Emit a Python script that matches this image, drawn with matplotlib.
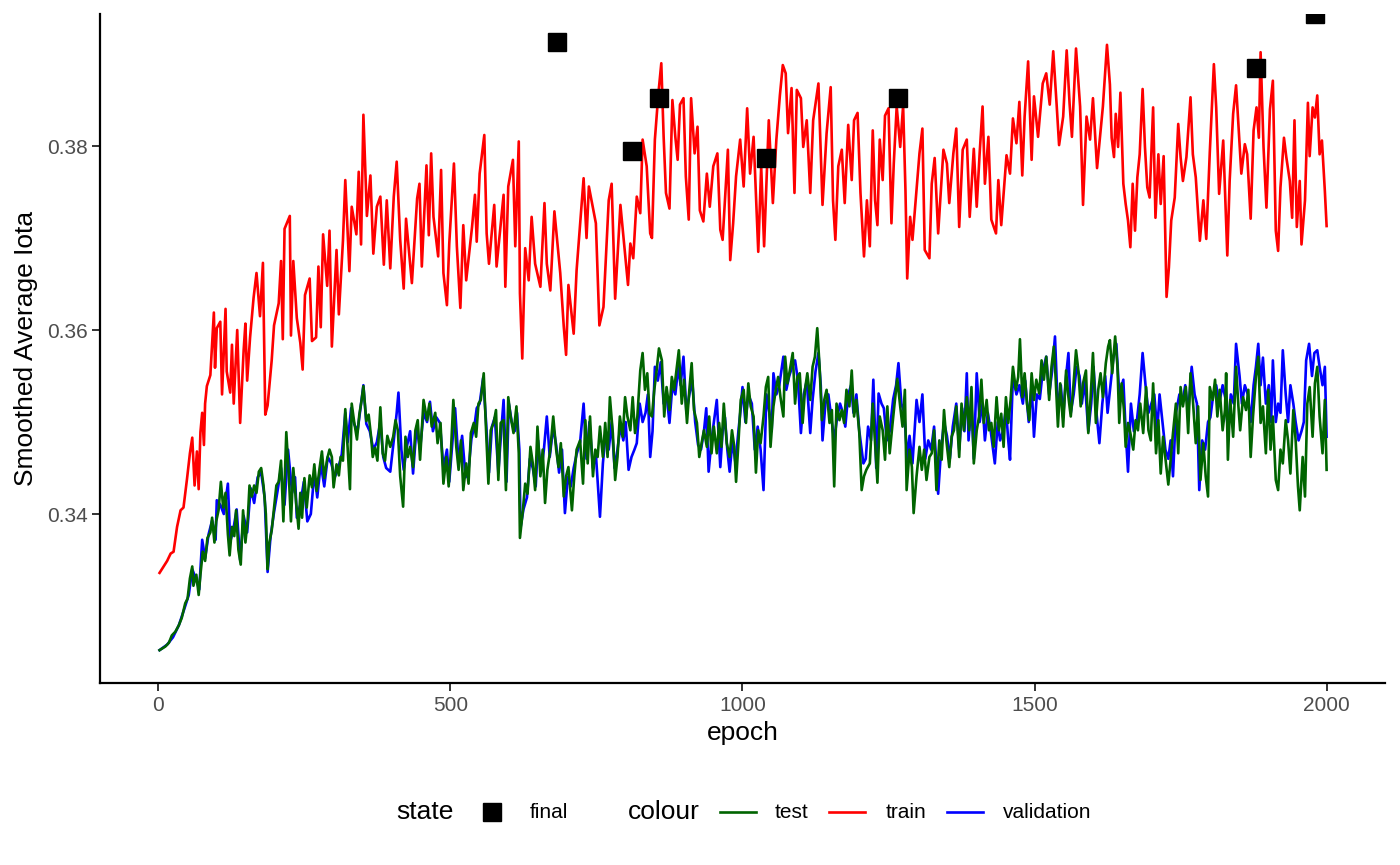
import numpy as np
import matplotlib
matplotlib.use("Agg")
import matplotlib.pyplot as plt
from matplotlib.lines import Line2D

plt.rcParams['font.family'] = ['Liberation Sans', 'DejaVu Sans']

# (epoch, smoothed average iota)
train_pts = [(2,.3336),(9,.3343),(15,.3349),(21,.3357),(26,.3359),(32,.3386),(38,.3404),(43,.3407),(49,.3438),(54,.3466),
    (58,.3483),(62,.3431),(66,.3468),(69,.3427),(72,.3489),(75,.3510),(78,.3475),(80,.3520),(83,.3539),(89,.3551),
    (95,.3619),(97,.3559),(100,.3602),(106,.3609),(109,.3530),(115,.3623),(117,.3555),(123,.3532),(126,.3584),(129,.3520),
    (135,.3600),(140,.3499),(146,.3578),(149,.3607),(152,.3545),(157,.3592),(163,.3635),(168,.3662),(174,.3615),(179,.3673),
    (183,.3508),(187,.3518),(194,.3567),(198,.3605),(206,.3629),(210,.3675),(213,.3590),(216,.3710),(225,.3724),(227,.3594),
    (231,.3675),(237,.3613),(243,.3586),(247,.3557),(251,.3638),(259,.3656),(263,.3588),(270,.3592),(274,.3669),(278,.3603),
    (282,.3704),(289,.3648),(293,.3708),(297,.3582),(305,.3687),(309,.3617),(316,.3697),(320,.3763),(327,.3664),(331,.3734),
    (339,.3704),(343,.3772),(347,.3693),(351,.3834),(357,.3724),(363,.3768),(368,.3683),(374,.3734),(380,.3745),(386,.3671),
    (391,.3741),(397,.3667),(403,.3745),(408,.3783),(414,.3698),(420,.3645),(424,.3721),(434,.3651),(443,.3743),(447,.3759),
    (451,.3669),(459,.3779),(463,.3703),(467,.3792),(471,.3723),(479,.3680),(484,.3774),(488,.3662),(494,.3627),(498,.3694),
    (506,.3781),(511,.3691),(517,.3624),(522,.3714),(527,.3654),(537,.3712),(542,.3747),(545,.3696),(550,.3770),(558,.3812),
    (562,.3705),(566,.3672),(575,.3736),(579,.3669),(591,.3747),(594,.3647),(599,.3756),(607,.3785),(611,.3691),(617,.3805),
    (619,.3640),(623,.3569),(628,.3689),(634,.3654),(639,.3723),(645,.3672),(654,.3647),(661,.3738),(665,.3672),(671,.3643),
    (678,.3729),(688,.3662),(694,.3604),(698,.3573),(702,.3649),(711,.3596),(716,.3665),(728,.3765),(733,.3700),(737,.3756),
    (749,.3716),(755,.3605),(762,.3625),(771,.3741),(776,.3759),(782,.3634),(791,.3736),(804,.3649),(808,.3694),(813,.3678),
    (819,.3745),(825,.3727),(829,.3807),(836,.3778),(842,.3705),(845,.3700),(850,.3807),(856,.3857),(861,.3890),(865,.3810),
    (869,.3749),(875,.3732),(880,.3850),(885,.3810),(889,.3785),(893,.3845),(899,.3852),(903,.3767),(908,.3720),(912,.3852),
    (918,.3792),(923,.3821),(927,.3730),(933,.3718),(939,.3770),(944,.3734),(950,.3778),(957,.3792),(962,.3709),(966,.3698),
    (975,.3796),(979,.3676),(984,.3716),(989,.3767),(996,.3807),(1002,.3756),(1008,.3841),(1013,.3770),(1019,.3810),(1027,.3685),
    (1032,.3778),(1037,.3691),(1045,.3828),(1052,.3738),(1058,.3807),(1064,.3855),(1069,.3888),(1074,.3879),(1078,.3814),(1084,.3863),
    (1089,.3749),(1093,.3861),(1100,.3852),(1104,.3799),(1110,.3828),(1116,.3749),(1121,.3828),(1130,.3868),(1137,.3736),(1144,.3814),
    (1151,.3864),(1155,.3741),(1159,.3698),(1164,.3778),(1170,.3796),(1175,.3738),(1181,.3823),(1187,.3763),(1191,.3828),(1197,.3836),
    (1202,.3749),(1208,.3680),(1213,.3741),(1218,.3691),(1223,.3817),(1227,.3741),(1231,.3714),(1235,.3807),(1240,.3763),(1244,.3833),
    (1250,.3841),(1255,.3716),(1259,.3781),(1264,.3843),(1270,.3799),(1275,.3844),(1279,.3752),(1282,.3656),(1287,.3723),(1291,.3698),
    (1298,.3752),(1303,.3792),(1308,.3819),(1312,.3687),(1320,.3678),(1324,.3759),(1329,.3787),(1335,.3705),(1344,.3796),(1350,.3781),
    (1354,.3738),(1361,.3792),(1366,.3819),(1371,.3712),(1377,.3796),(1384,.3807),(1389,.3723),(1396,.3797),(1401,.3734),(1406,.3792),
    (1411,.3843),(1415,.3759),(1421,.3810),(1426,.3720),(1434,.3705),(1438,.3763),(1443,.3714),(1452,.3790),(1458,.3770),(1463,.3830),
    (1469,.3803),(1474,.3848),(1479,.3768),(1483,.3832),(1489,.3892),(1495,.3785),(1499,.3854),(1506,.3810),(1514,.3868),(1520,.3879),
    (1526,.3845),(1532,.3903),(1538,.3843),(1542,.3801),(1549,.3832),(1555,.3904),(1560,.3846),(1564,.3810),(1571,.3906),(1578,.3843),
    (1583,.3736),(1589,.3832),(1595,.3807),(1600,.3852),(1607,.3776),(1612,.3810),(1617,.3843),(1624,.3910),(1629,.3867),(1632,.3809),
    (1636,.3788),(1639,.3835),(1643,.3799),(1647,.3858),(1652,.3759),(1656,.3737),(1660,.3719),(1664,.3690),(1668,.3759),(1672,.3708),
    (1676,.3766),(1680,.3791),(1685,.3862),(1689,.3799),(1693,.3755),(1697,.3744),(1703,.3842),(1707,.3722),(1712,.3791),(1716,.3737),
    (1721,.3789),(1726,.3636),(1730,.3668),(1734,.3719),(1740,.3744),(1746,.3824),(1750,.3788),(1754,.3762),(1760,.3788),(1767,.3853),
    (1771,.3791),(1776,.3766),(1783,.3697),(1789,.3741),(1794,.3699),(1800,.3793),(1807,.3889),(1811,.3842),(1816,.3748),(1823,.3806),
    (1830,.3681),(1834,.3762),(1840,.3835),(1845,.3866),(1849,.3824),(1854,.3770),(1860,.3802),(1864,.3791),(1870,.3721),(1875,.3817),
    (1880,.3842),(1884,.3809),(1887,.3902),(1892,.3799),(1897,.3733),(1903,.3840),(1908,.3871),(1913,.3708),(1917,.3686),(1921,.3755),
    (1927,.3809),(1931,.3788),(1937,.3762),(1941,.3722),(1945,.3828),(1949,.3712),(1954,.3762),(1957,.3693),(1963,.3741),(1968,.3847),
    (1971,.3789),(1976,.3842),(1980,.3831),(1984,.3855),(1988,.3791),(1992,.3806),(1997,.3751),(2000,.3713)]

test_pts = [(2,.3252),(12,.3256),(18,.3260),(23,.3268),(29,.3272),(35,.3279),(40,.3287),(46,.3303),(50,.3308),(54,.3330),
    (58,.3343),(60,.3322),(65,.3334),(69,.3312),(72,.3334),(76,.3359),(80,.3349),(84,.3374),(89,.3380),(92,.3396),
    (96,.3369),(99,.3392),(103,.3404),(107,.3435),(111,.3407),(115,.3423),(119,.3378),(122,.3355),(126,.3386),(130,.3376),
    (133,.3404),(137,.3361),(141,.3345),(145,.3404),(149,.3369),(153,.3394),(156,.3431),(160,.3419),(164,.3431),(168,.3423),
    (172,.3446),(176,.3450),(180,.3431),(184,.3400),(187,.3340),(190,.3369),(194,.3382),(198,.3407),(202,.3431),(206,.3435),
    (210,.3458),(214,.3392),(219,.3489),(223,.3446),(227,.3392),(231,.3450),(236,.3411),(240,.3384),(243,.3423),(246,.3396),
    (250,.3439),(254,.3407),(259,.3442),(263,.3429),(267,.3454),(271,.3425),(276,.3450),(280,.3468),(284,.3439),(289,.3460),
    (293,.3470),(297,.3462),(300,.3429),(305,.3454),(309,.3442),(312,.3462),(316,.3458),(320,.3514),(324,.3472),(328,.3427),
    (331,.3520),(335,.3501),(340,.3481),(344,.3508),(348,.3524),(351,.3539),(356,.3501),(360,.3508),(364,.3485),(367,.3462),
    (371,.3472),(375,.3458),(380,.3516),(384,.3466),(388,.3458),(392,.3485),(397,.3473),(402,.3484),(406,.3502),(410,.3491),
    (414,.3441),(419,.3408),(423,.3484),(427,.3462),(431,.3473),(436,.3451),(440,.3491),(444,.3502),(448,.3459),(454,.3524),
    (460,.3502),(464,.3520),(468,.3495),(474,.3510),(478,.3477),(483,.3499),(488,.3433),(493,.3462),(497,.3430),(501,.3470),
    (505,.3524),(510,.3473),(514,.3448),(518,.3480),(522,.3426),(527,.3455),(531,.3433),(535,.3488),(540,.3499),(544,.3484),
    (548,.3520),(552,.3524),(557,.3553),(561,.3491),(565,.3433),(569,.3491),(574,.3499),(578,.3513),(582,.3437),(586,.3499),
    (591,.3502),(595,.3426),(599,.3527),(603,.3506),(608,.3488),(613,.3517),(617,.3466),(619,.3374),(624,.3404),(628,.3433),
    (632,.3422),(637,.3473),(641,.3455),(645,.3426),(649,.3495),(654,.3441),(658,.3470),(662,.3412),(666,.3448),(671,.3470),
    (676,.3506),(681,.3470),(685,.3451),(689,.3477),(694,.3419),(698,.3441),(702,.3451),(708,.3404),(712,.3441),(716,.3470),
    (722,.3480),(727,.3433),(731,.3502),(735,.3455),(739,.3506),(744,.3441),(748,.3470),(752,.3462),(756,.3495),(761,.3462),
    (765,.3499),(769,.3462),(773,.3527),(778,.3488),(782,.3437),(786,.3462),(790,.3506),(795,.3484),(799,.3527),(803,.3506),
    (808,.3491),(812,.3527),(816,.3488),(820,.3506),(825,.3556),(829,.3575),(833,.3535),(837,.3553),(841,.3509),(845,.3506),
    (849,.3535),(853,.3556),(857,.3580),(862,.3567),(866,.3506),(870,.3538),(875,.3513),(879,.3549),(883,.3535),(887,.3556),
    (891,.3578),(896,.3520),(900,.3546),(905,.3499),(909,.3535),(913,.3564),(917,.3513),(922,.3499),(926,.3462),(930,.3477),
    (934,.3491),(939,.3473),(943,.3506),(947,.3466),(951,.3495),(956,.3466),(960,.3499),(964,.3473),(968,.3520),(973,.3477),
    (978,.3462),(982,.3491),(986,.3473),(989,.3435),(993,.3477),(997,.3524),(1002,.3535),(1006,.3499),(1010,.3542),(1014,.3517),
    (1019,.3506),(1023,.3445),(1027,.3491),(1031,.3477),(1036,.3506),(1040,.3538),(1044,.3549),(1048,.3473),(1053,.3517),(1057,.3535),
    (1061,.3549),(1065,.3527),(1070,.3506),(1073,.3571),(1077,.3542),(1081,.3556),(1086,.3575),(1090,.3520),(1094,.3549),(1098,.3553),
    (1103,.3499),(1107,.3535),(1111,.3553),(1116,.3524),(1120,.3560),(1124,.3571),(1128,.3602),(1132,.3560),(1136,.3502),(1140,.3524),
    (1144,.3535),(1149,.3499),(1153,.3513),(1157,.3430),(1161,.3520),(1166,.3502),(1170,.3513),(1174,.3499),(1178,.3535),(1183,.3517),
    (1187,.3556),(1191,.3506),(1195,.3524),(1200,.3488),(1204,.3426),(1208,.3441),(1212,.3448),(1218,.3455),(1223,.3520),(1227,.3477),
    (1231,.3434),(1235,.3506),(1240,.3491),(1244,.3459),(1248,.3517),(1252,.3466),(1257,.3499),(1261,.3524),(1265,.3547),(1270,.3517),
    (1274,.3495),(1278,.3535),(1281,.3426),(1286,.3470),(1290,.3451),(1293,.3401),(1298,.3441),(1303,.3473),(1307,.3448),(1311,.3470),
    (1315,.3437),(1320,.3462),(1324,.3466),(1328,.3491),(1332,.3426),(1337,.3480),(1341,.3459),(1345,.3513),(1349,.3480),(1354,.3451),
    (1358,.3484),(1362,.3491),(1366,.3517),(1371,.3462),(1375,.3520),(1379,.3491),(1384,.3527),(1388,.3491),(1392,.3538),(1396,.3455),
    (1401,.3491),(1405,.3506),(1409,.3546),(1413,.3499),(1418,.3524),(1422,.3491),(1426,.3499),(1430,.3473),(1435,.3527),(1439,.3491),
    (1443,.3509),(1447,.3473),(1451,.3527),(1455,.3499),(1459,.3524),(1463,.3560),(1468,.3535),(1472,.3549),(1475,.3590),(1479,.3527),
    (1483,.3553),(1487,.3520),(1491,.3502),(1495,.3553),(1499,.3524),(1503,.3546),(1508,.3531),(1512,.3567),(1516,.3546),(1520,.3571),
    (1525,.3524),(1529,.3560),(1533,.3582),(1536,.3549),(1540,.3495),(1544,.3542),(1549,.3495),(1554,.3556),(1558,.3527),(1562,.3506),
    (1566,.3535),(1571,.3578),(1575,.3556),(1579,.3517),(1583,.3542),(1588,.3556),(1592,.3488),(1596,.3527),(1600,.3575),(1605,.3499),
    (1609,.3535),(1613,.3553),(1617,.3527),(1622,.3564),(1626,.3582),(1629,.3589),(1633,.3553),(1638,.3593),(1642,.3560),(1645,.3499),
    (1649,.3542),(1653,.3513),(1656,.3473),(1660,.3499),(1664,.3488),(1669,.3470),(1673,.3502),(1677,.3491),(1681,.3520),(1686,.3488),
    (1691,.3538),(1695,.3491),(1699,.3480),(1703,.3542),(1708,.3466),(1712,.3502),(1716,.3444),(1720,.3484),(1725,.3455),(1729,.3432),
    (1733,.3459),(1737,.3488),(1742,.3520),(1746,.3466),(1750,.3538),(1754,.3517),(1759,.3538),(1763,.3488),(1767,.3553),(1771,.3524),
    (1776,.3477),(1780,.3517),(1784,.3437),(1789,.3477),(1793,.3441),(1797,.3419),(1800,.3538),(1805,.3524),(1809,.3546),(1813,.3506),
    (1817,.3535),(1822,.3491),(1826,.3513),(1828,.3553),(1831,.3459),(1835,.3524),(1840,.3484),(1845,.3560),(1849,.3517),(1852,.3491),
    (1857,.3527),(1862,.3513),(1866,.3535),(1870,.3462),(1874,.3506),(1879,.3549),(1883,.3571),(1887,.3499),(1891,.3517),(1896,.3466),
    (1900,.3535),(1904,.3470),(1908,.3506),(1913,.3437),(1917,.3426),(1921,.3470),(1925,.3455),(1930,.3502),(1934,.3480),(1938,.3444),
    (1943,.3513),(1947,.3480),(1951,.3430),(1954,.3404),(1959,.3462),(1963,.3419),(1967,.3520),(1971,.3538),(1976,.3484),(1980,.3542),
    (1984,.3560),(1988,.3506),(1993,.3466),(1997,.3524),(2000,.3448)]

val_pts = [(2,.3252),(15,.3258),(25,.3266),(35,.3279),(45,.3298),(52,.3312),(58,.3340),(64,.3330),(70,.3318),(75,.3372),
    (80,.3352),(86,.3378),(92,.3393),(98,.3372),(100,.3415),(106,.3410),(112,.3400),(119,.3433),(123,.3370),(128,.3382),
    (134,.3405),(140,.3350),(146,.3398),(152,.3380),(158,.3428),(164,.3412),(170,.3440),(176,.3445),(182,.3418),(187,.3337),
    (192,.3375),(198,.3402),(204,.3425),(210,.3450),(216,.3410),(222,.3470),(229,.3423),(234,.3440),(237,.3396),(243,.3410),
    (249,.3435),(255,.3392),(261,.3400),(267,.3445),(272,.3418),(278,.3455),(284,.3430),(290,.3462),(296,.3455),(302,.3440),
    (308,.3450),(314,.3465),(320,.3510),(324,.3478),(330,.3515),(335,.3498),(341,.3490),(346,.3515),(351,.3540),(356,.3498),
    (362,.3490),(368,.3470),(374,.3478),(380,.3500),(385,.3462),(390,.3450),(397,.3446),(403,.3480),(408,.3510),(411,.3532),
    (416,.3470),(420,.3448),(426,.3475),(431,.3490),(436,.3444),(442,.3495),(448,.3470),(454,.3510),(460,.3500),(465,.3522),
    (470,.3490),(476,.3505),(482,.3499),(488,.3450),(494,.3470),(498,.3435),(503,.3475),(508,.3515),(514,.3455),(520,.3485),
    (526,.3440),(531,.3448),(536,.3482),(541,.3495),(545,.3515),(550,.3520),(556,.3548),(561,.3500),(566,.3445),(571,.3495),
    (576,.3505),(582,.3445),(587,.3490),(591,.3524),(596,.3435),(600,.3520),(605,.3500),(610,.3490),(614,.3510),(618,.3470),
    (620,.3385),(625,.3405),(631,.3418),(636,.3460),(641,.3450),(646,.3430),(650,.3480),(655,.3445),(660,.3470),(665,.3506),
    (670,.3462),(676,.3495),(681,.3475),(686,.3445),(691,.3470),(696,.3401),(701,.3440),(706,.3430),(711,.3450),(716,.3465),
    (722,.3478),(728,.3520),(733,.3460),(738,.3500),(744,.3450),(749,.3465),(756,.3397),(761,.3455),(766,.3490),(771,.3470),
    (776,.3500),(781,.3450),(786,.3470),(791,.3495),(796,.3480),(800,.3500),(805,.3448),(810,.3462),(815,.3470),(819,.3477),
    (824,.3520),(829,.3500),(834,.3510),(838,.3530),(842,.3462),(846,.3490),(850,.3560),(855,.3545),(860,.3565),(865,.3520),
    (870,.3530),(875,.3499),(880,.3540),(885,.3530),(890,.3560),(894,.3540),(899,.3571),(904,.3510),(909,.3530),(914,.3545),
    (919,.3500),(924,.3475),(929,.3470),(934,.3490),(938,.3515),(942,.3446),(947,.3480),(951,.3500),(956,.3524),(962,.3451),
    (966,.3490),(970,.3505),(974,.3470),(978,.3446),(983,.3480),(988,.3455),(993,.3490),(997,.3515),(1000,.3538),(1005,.3500),
    (1010,.3530),(1016,.3520),(1021,.3470),(1026,.3495),(1031,.3470),(1036,.3426),(1041,.3530),(1046,.3510),(1050,.3490),(1053,.3553),
    (1058,.3530),(1063,.3540),(1070,.3571),(1075,.3535),(1080,.3550),(1085,.3560),(1090,.3567),(1095,.3545),(1100,.3488),(1105,.3530),
    (1110,.3545),(1116,.3488),(1120,.3524),(1125,.3555),(1130,.3575),(1134,.3540),(1137,.3480),(1142,.3520),(1147,.3530),(1152,.3505),
    (1157,.3480),(1162,.3505),(1167,.3520),(1172,.3510),(1176,.3495),(1181,.3530),(1186,.3540),(1190,.3510),(1195,.3530),(1200,.3490),
    (1207,.3455),(1211,.3460),(1215,.3495),(1220,.3480),(1224,.3546),(1229,.3450),(1233,.3531),(1238,.3520),(1242,.3515),(1247,.3480),
    (1252,.3490),(1258,.3525),(1263,.3540),(1267,.3564),(1272,.3520),(1277,.3510),(1282,.3460),(1286,.3485),(1291,.3455),(1298,.3524),
    (1303,.3500),(1308,.3530),(1313,.3460),(1318,.3480),(1323,.3470),(1328,.3495),(1335,.3422),(1340,.3470),(1345,.3500),(1350,.3485),
    (1355,.3460),(1360,.3495),(1366,.3520),(1371,.3470),(1376,.3515),(1380,.3490),(1384,.3553),(1387,.3480),(1392,.3520),(1396,.3460),
    (1401,.3553),(1406,.3500),(1411,.3520),(1415,.3480),(1420,.3510),(1425,.3490),(1432,.3455),(1437,.3500),(1441,.3480),(1446,.3490),
    (1451,.3515),(1455,.3480),(1458,.3459),(1463,.3550),(1469,.3530),(1474,.3540),(1480,.3520),(1484,.3545),(1490,.3500),(1495,.3540),
    (1499,.3484),(1504,.3530),(1509,.3525),(1514,.3555),(1520,.3571),(1525,.3530),(1530,.3555),(1535,.3593),(1540,.3510),(1545,.3540),
    (1549,.3505),(1554,.3550),(1558,.3575),(1562,.3510),(1567,.3530),(1572,.3560),(1577,.3550),(1581,.3520),(1586,.3545),(1592,.3490),
    (1597,.3520),(1601,.3560),(1606,.3510),(1611,.3477),(1616,.3520),(1621,.3550),(1625,.3510),(1630,.3540),(1635,.3570),(1640,.3585),
    (1645,.3530),(1652,.3546),(1656,.3490),(1660,.3446),(1665,.3520),(1670,.3490),(1675,.3500),(1680,.3530),(1685,.3575),(1690,.3540),
    (1695,.3510),(1700,.3520),(1705,.3530),(1710,.3490),(1714,.3530),(1719,.3500),(1724,.3470),(1729,.3460),(1733,.3480),(1737,.3441),
    (1742,.3510),(1748,.3530),(1753,.3520),(1758,.3540),(1763,.3510),(1769,.3560),(1774,.3530),(1778,.3520),(1782,.3426),(1787,.3480),
    (1792,.3470),(1797,.3500),(1801,.3505),(1806,.3530),(1811,.3540),(1816,.3520),(1822,.3540),(1827,.3525),(1831,.3490),(1836,.3530),
    (1841,.3520),(1845,.3585),(1851,.3550),(1855,.3520),(1860,.3540),(1865,.3530),(1870,.3500),(1875,.3540),(1879,.3560),(1883,.3585),
    (1887,.3540),(1891,.3570),(1896,.3520),(1901,.3540),(1905,.3500),(1908,.3567),(1913,.3500),(1917,.3520),(1921,.3510),(1925,.3578),
    (1930,.3530),(1934,.3500),(1938,.3540),(1943,.3520),(1947,.3500),(1952,.3480),(1957,.3490),(1961,.3500),(1965,.3567),(1970,.3585),
    (1975,.3550),(1979,.3575),(1984,.3578),(1988,.3560),(1993,.3540),(1997,.3560),(2000,.3484)]

final_epoch = [683, 811, 857, 1040, 1266, 1879, 1980]
final_iota = [0.3913, 0.3795, 0.3852, 0.3787, 0.3852, 0.3885, 0.3944]

train = np.array(train_pts)
test = np.array(test_pts)
val = np.array(val_pts)

fig = plt.figure(figsize=(14, 8.65), dpi=100)
ax = fig.add_axes([0.0714, 0.2104, 0.9179, 0.7734])

lw = 1.9
ax.plot(val[:, 0], val[:, 1], color='#0000FF', lw=lw)
ax.plot(test[:, 0], test[:, 1], color='#006400', lw=lw)
ax.plot(train[:, 0], train[:, 1], color='#FF0000', lw=lw)
ax.plot(final_epoch, final_iota, 's', color='black', ms=13, ls='none')

ax.set_xlim(-100, 2100)
ax.set_ylim(0.32163, 0.39435)
ax.set_xticks([0, 500, 1000, 1500, 2000])
ax.set_yticks([0.34, 0.36, 0.38])
ax.set_yticklabels(['0.34', '0.36', '0.38'])
for s in ['top', 'right']:
    ax.spines[s].set_visible(False)
for s in ['left', 'bottom']:
    ax.spines[s].set_linewidth(1.6)
ax.tick_params(axis='both', length=5.5, width=1.4, color='#333333', labelsize=15,
               labelcolor='#4d4d4d', pad=3.5)
ax.set_xlabel('epoch', fontsize=19)
ax.xaxis.set_label_coords(0.5, -(733 - 683) / 669, transform=ax.transAxes)
ax.xaxis.label.set_va('center')
ax.set_ylabel('Smoothed Average Iota', fontsize=19)
ax.yaxis.set_label_coords(-(100 - 26) / 1285, 0.5)
ax.yaxis.label.set_va('center')
ax.yaxis.label.set_ha('center')

# legend at bottom, ggplot style
ly = 1 - 812 / 865
fig.text(396 / 1400, ly, 'state', fontsize=19, va='center', ha='left')
fig.add_artist(Line2D([492 / 1400], [ly], marker='s', color='black', ms=13, ls='none', transform=fig.transFigure))
fig.text(530 / 1400, ly, 'final', fontsize=15, va='center', ha='left')
fig.text(628 / 1400, ly, 'colour', fontsize=19, va='center', ha='left')
items = [('test', '#006400', 720, 775), ('train', '#FF0000', 829, 886), ('validation', '#0000FF', 947, 1003)]
for lab, col, x0, tx in items:
    fig.add_artist(Line2D([x0 / 1400, (x0 + 36) / 1400], [ly, ly], color=col, lw=lw, transform=fig.transFigure))
    fig.text(tx / 1400, ly, lab, fontsize=15, va='center', ha='left')

fig.savefig('out.png', dpi=100)
